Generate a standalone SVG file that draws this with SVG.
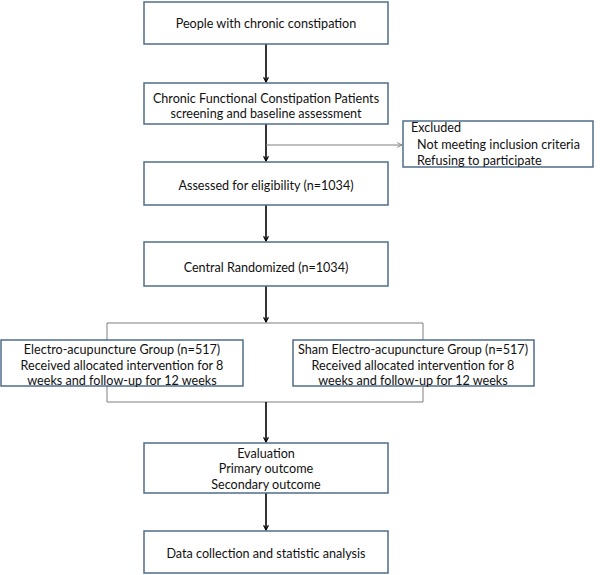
<svg xmlns="http://www.w3.org/2000/svg" width="600" height="575" viewBox="0 0 600 575">
<defs>
<style>
.box{fill:#ffffff;stroke:#4f6d8c;stroke-width:1.5}
.t{font-family:Lato,"Open Sans","Liberation Sans",sans-serif;font-size:12.6px;fill:#111;text-anchor:middle}
.tl{font-family:Lato,"Open Sans","Liberation Sans",sans-serif;font-size:12.6px;fill:#111}
.arr{stroke:#000;stroke-width:1.6;fill:none;marker-end:url(#ah)}
.thin{stroke:#7f7f7f;stroke-width:1;fill:none}
.thinarr{stroke:#7f7f7f;stroke-width:1;fill:none;marker-end:url(#ah2)}
</style>
<marker id="ah" viewBox="0 0 10 10" refX="9" refY="5" markerWidth="6" markerHeight="6" markerUnits="userSpaceOnUse" orient="auto">
<path d="M1,1 L9,5 L1,9" fill="none" stroke="#000" stroke-width="2"/>
</marker>
<marker id="ah2" viewBox="0 0 10 10" refX="9" refY="5" markerWidth="6" markerHeight="6" markerUnits="userSpaceOnUse" orient="auto">
<path d="M1,1 L9,5 L1,9" fill="none" stroke="#7f7f7f" stroke-width="1.5"/>
</marker>
</defs>
<rect width="600" height="575" fill="#ffffff"/>
<g id="connectors">
<line class="arr" x1="266" y1="44" x2="266" y2="82"/>
<line class="arr" x1="266" y1="124" x2="266" y2="161"/>
<line class="thinarr" x1="266" y1="145" x2="402" y2="145"/>
<line class="arr" x1="266" y1="205" x2="266" y2="241"/>
<line class="arr" x1="266" y1="286" x2="266" y2="322"/>
<polyline class="thin" points="107,340 107,323 423,323 423,340"/>
<polyline class="thin" points="107,386 107,402 423,402 423,386"/>
<line class="arr" x1="266" y1="402" x2="266" y2="442"/>
<line class="arr" x1="266" y1="493" x2="266" y2="530"/>
</g>
<g id="n1">
<rect class="box" x="144" y="2" width="244" height="42"/>
<text class="t" x="266" y="27.5">People with chronic constipation</text>
</g>
<g id="n2">
<rect class="box" x="144" y="83" width="244" height="41"/>
<text class="t" x="266" y="102.5">Chronic Functional Constipation Patients</text>
<text class="t" x="266" y="118">screening and baseline assessment</text>
</g>
<g id="excluded">
<rect class="box" x="403" y="121" width="190" height="46"/>
<text class="tl" x="411" y="132">Excluded</text>
<text class="tl" x="417" y="148.5">Not meeting inclusion criteria</text>
<text class="tl" x="417" y="165">Refusing to participate</text>
</g>
<g id="n3">
<rect class="box" x="144" y="162" width="244" height="43"/>
<text class="t" x="266" y="189.5">Assessed for eligibility (n=1034)</text>
</g>
<g id="n4">
<rect class="box" x="144" y="242" width="244" height="44"/>
<text class="t" x="266" y="271.5">Central Randomized  (n=1034)</text>
</g>
<g id="ea">
<rect class="box" x="1" y="340" width="242" height="46"/>
<text class="t" x="122" y="353.5">Electro-acupuncture Group (n=517)</text>
<text class="t" x="122" y="369.5">Received allocated intervention for 8</text>
<text class="t" x="122" y="385">weeks and follow-up for 12 weeks</text>
</g>
<g id="sham">
<rect class="box" x="293" y="340" width="241" height="46"/>
<text class="t" x="413" y="353.5">Sham Electro-acupuncture Group (n=517)</text>
<text class="t" x="413" y="369.5">Received allocated intervention for 8</text>
<text class="t" x="413" y="385">weeks and follow-up for 12 weeks</text>
</g>
<g id="eval">
<rect class="box" x="144" y="443" width="244" height="50"/>
<text class="t" x="266" y="457.5">Evaluation</text>
<text class="t" x="266" y="473">Primary outcome</text>
<text class="t" x="266" y="488.5">Secondary outcome</text>
</g>
<g id="data">
<rect class="box" x="144" y="531" width="244" height="42"/>
<text class="t" x="266" y="557.5">Data collection and statistic analysis</text>
</g>
</svg>
